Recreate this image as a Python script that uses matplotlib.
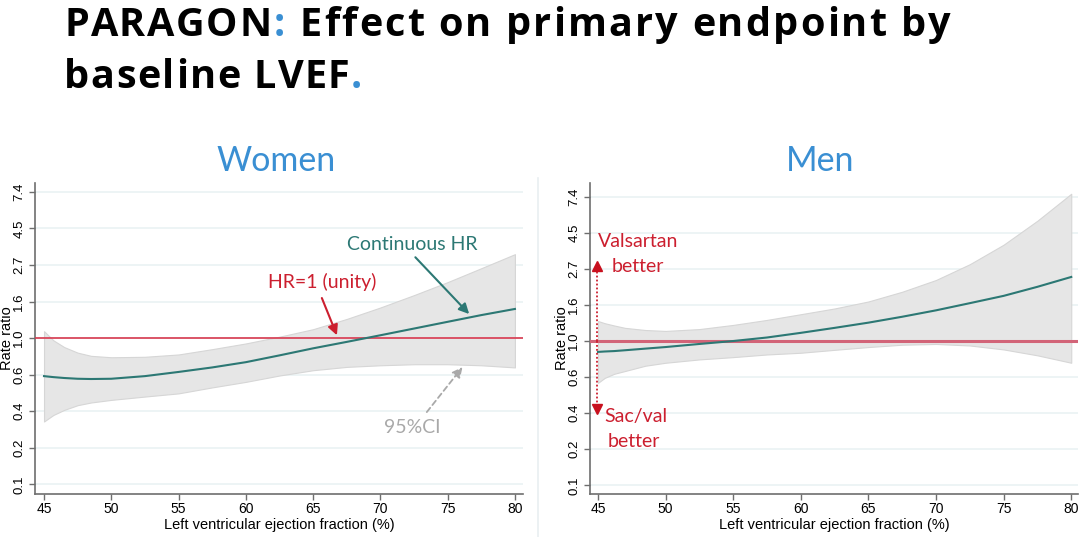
import numpy as np
import matplotlib
matplotlib.use("Agg")
import matplotlib.pyplot as plt
from matplotlib.ticker import FixedLocator, FixedFormatter

# ---------------- data ----------------
women_lvef  = [45, 45.7, 46.5, 47.5, 48.5, 50, 52.5, 55, 57.5, 60, 62.5, 65, 67.5, 70, 72.5, 75, 77.5, 80]
women_hr    = [0.595, 0.587, 0.580, 0.574, 0.572, 0.574, 0.595, 0.63, 0.67, 0.72, 0.79, 0.87, 0.95, 1.04, 1.14, 1.25, 1.37, 1.49]
women_upper = [1.10, 0.97, 0.885, 0.82, 0.785, 0.77, 0.775, 0.80, 0.86, 0.93, 1.02, 1.13, 1.30, 1.52, 1.80, 2.15, 2.60, 3.15]
women_lower = [0.32, 0.35, 0.375, 0.40, 0.415, 0.43, 0.45, 0.47, 0.51, 0.55, 0.60, 0.645, 0.675, 0.69, 0.70, 0.70, 0.69, 0.67]

men_lvef  = [45, 45.5, 46.2, 47, 48.5, 50, 52.5, 55, 57.5, 60, 62.5, 65, 67.5, 70, 72.5, 75, 77.5, 80]
men_hr    = [0.86, 0.865, 0.87, 0.88, 0.90, 0.92, 0.96, 1.00, 1.05, 1.12, 1.20, 1.29, 1.40, 1.53, 1.69, 1.87, 2.12, 2.43]
men_upper = [1.32, 1.28, 1.24, 1.20, 1.165, 1.15, 1.18, 1.25, 1.34, 1.45, 1.57, 1.73, 1.98, 2.33, 2.90, 3.80, 5.30, 7.70]
men_lower = [0.56, 0.60, 0.635, 0.66, 0.71, 0.74, 0.775, 0.80, 0.83, 0.85, 0.885, 0.92, 0.95, 0.96, 0.94, 0.89, 0.82, 0.74]

x_ticks = [45, 50, 55, 60, 65, 70, 75, 80]
y_tick_logs = [-2, -1.5, -1, -0.5, 0, 0.5, 1, 1.5, 2]
y_tick_labels = ["0.1", "0.2", "0.4", "0.6", "1.0", "1.6", "2.7", "4.5", "7.4"]

title_line1 = [("PARAGON", "black"), (":", "#3a8fd3"), (" Effect on primary endpoint by", "black")]
title_line2 = [("baseline LVEF", "black"), (".", "#3a8fd3")]

# ---------------- style ----------------
BLUE = "#3a8fd3"
TEAL = "#2c7874"
RED = "#cc1f2f"
GRAY_TXT = "#a9a9a9"
AXFONT = "Liberation Sans"
ANNFONT = "Lato"

fig = plt.figure(figsize=(10.8, 5.37), dpi=100)
fig.patch.set_facecolor("white")

def setup_axes(ax, ylo, yhi, xlo, xhi):
    ax.set_yscale("log")
    ax.set_ylim(np.exp(ylo), np.exp(yhi))
    ax.set_xlim(xlo, xhi)
    ax.yaxis.set_major_locator(FixedLocator([np.exp(v) for v in y_tick_logs]))
    ax.yaxis.set_major_formatter(FixedFormatter(y_tick_labels))
    ax.yaxis.set_minor_locator(FixedLocator([]))
    ax.set_xticks(x_ticks)
    for s in ["top", "right"]:
        ax.spines[s].set_visible(False)
    for s in ["left", "bottom"]:
        ax.spines[s].set_color("#6e6e6e")
        ax.spines[s].set_linewidth(1.2)
    ax.tick_params(axis="both", colors="#6e6e6e", length=4, width=1.0, labelcolor="black")
    ax.tick_params(axis="x", labelsize=10, pad=2)
    ax.tick_params(axis="y", labelsize=9.5, pad=3)
    for lab in ax.get_yticklabels():
        lab.set_rotation(90)
        lab.set_va("center")
    for lab in ax.get_xticklabels() + ax.get_yticklabels():
        lab.set_fontfamily(AXFONT)
    ax.grid(axis="y", color="#eaf2f3", linewidth=1.2, zorder=0)
    ax.set_axisbelow(True)
    ax.set_xlabel("Left ventricular ejection fraction (%)", fontsize=10.5,
                  fontfamily=AXFONT, labelpad=1)
    ax.set_ylabel("Rate ratio", fontsize=10.5, fontfamily=AXFONT)
    ax.yaxis.set_label_coords(-0.044, 0.5)

# Left (Women)
axL = fig.add_axes([35/1080, 1-494/537, (523-35)/1080, (494-183)/537])
setup_axes(axL, -2.13, 2.12, 44.33, 80.6)
axL.fill_between(women_lvef, women_lower, women_upper, facecolor="#e6e6e6",
                 edgecolor="#d6d6d6", linewidth=0.8, zorder=2)
axL.axhline(1.0, color="#d8394f", linewidth=1.2, zorder=3)
axL.plot(women_lvef, women_hr, color=TEAL, linewidth=1.5, zorder=4)

axL.text(72.4, 3.33, "Continuous HR", color=TEAL, fontsize=14, fontfamily=ANNFONT,
         ha="center", va="baseline")
axL.annotate("", xy=(76.6, 1.39), xytext=(72.6, 3.02),
             arrowprops=dict(arrowstyle="-|>,head_length=0.6,head_width=0.3",
                             color=TEAL, lw=1.5, shrinkA=0, shrinkB=0))
axL.text(65.7, 1.98, "HR=1 (unity)", color=RED, fontsize=14, fontfamily=ANNFONT,
         ha="center", va="baseline")
axL.annotate("", xy=(66.77, 1.04), xytext=(65.65, 1.73),
             arrowprops=dict(arrowstyle="-|>,head_length=0.6,head_width=0.3",
                             color=RED, lw=1.5, shrinkA=0, shrinkB=0))
axL.text(72.4, 0.273, "95%CI", color=GRAY_TXT, fontsize=14, fontfamily=ANNFONT,
         ha="center", va="baseline")
axL.annotate("", xy=(76.1, 0.673), xytext=(73.45, 0.364),
             arrowprops=dict(arrowstyle="-|>,head_length=0.6,head_width=0.3",
                             color="#a9a9a9", lw=1.3, linestyle=(0, (3, 2)),
                             shrinkA=0, shrinkB=0))

# Right (Men)
axR = fig.add_axes([590/1080, 1-494/537, (1078-590)/1080, (494-183)/537])
setup_axes(axR, -2.12, 2.19, 44.41, 80.5)
axR.fill_between(men_lvef, men_lower, men_upper, facecolor="#e6e6e6",
                 edgecolor="#d6d6d6", linewidth=0.8, zorder=2)
axR.axhline(1.0, color="#d26478", linewidth=2.2, zorder=3)
axR.plot(men_lvef, men_hr, color=TEAL, linewidth=1.5, zorder=4)

# dotted arrows
axR.plot([44.93, 44.93], [1.0, 2.75], color=RED, linestyle=(0, (1, 1.2)), linewidth=1.3, zorder=5)
axR.plot([44.93], [2.82], marker="^", markersize=7, color="#c8101e", zorder=6, clip_on=False)
axR.plot([44.93, 44.93], [1.0, 0.40], color=RED, linestyle=(0, (1, 1.2)), linewidth=1.3, zorder=5)
axR.plot([44.93], [0.39], marker="v", markersize=7, color="#c8101e", zorder=6, clip_on=False)
axR.text(45.0, 3.67, "Valsartan", color=RED, fontsize=14, fontfamily=ANNFONT,
         ha="left", va="baseline")
axR.text(46.04, 2.60, "better", color=RED, fontsize=14, fontfamily=ANNFONT,
         ha="left", va="baseline")
axR.text(45.44, 0.326, "Sac/val", color=RED, fontsize=14, fontfamily=ANNFONT,
         ha="left", va="baseline")
axR.text(45.74, 0.230, "better", color=RED, fontsize=14, fontfamily=ANNFONT,
         ha="left", va="baseline")

# Panel titles
fig.text(276/1080, 1-170.5/537, "Women", color=BLUE, fontsize=24.5, fontfamily=ANNFONT,
         ha="center", va="baseline")
fig.text(820/1080, 1-170.5/537, "Men", color=BLUE, fontsize=24.5, fontfamily=ANNFONT,
         ha="center", va="baseline")

# faint panel divider
fig.add_artist(plt.Line2D([538/1080, 538/1080], [0, 1-178/537], color="#e9eff1",
                          linewidth=1.2, transform=fig.transFigure))

# Main title with coloured punctuation and letter spacing
renderer = fig.canvas.get_renderer()
TKW = dict(fontsize=28.5, fontweight="bold", fontfamily="Open Sans")

def text_width(s):
    t = fig.text(0, 0, s + "|", **TKW)
    w = t.get_window_extent(renderer).width
    t.remove()
    t2 = fig.text(0, 0, "|", **TKW)
    wbar = t2.get_window_extent(renderer).width
    t2.remove()
    return w - wbar

def tracked_line(x_px, y_px, parts, target_px):
    chars = [(ch, c) for s, c in parts for ch in s]
    full = "".join(ch for ch, _ in chars)
    natural = text_width(full)
    track = (target_px - natural) / (len(chars) - 1)
    for i, (ch, c) in enumerate(chars):
        if ch == " ":
            continue
        adv = text_width(full[:i]) if i > 0 else 0.0
        x = x_px + adv + i * track
        fig.text(x / 1080, 1 - y_px / 537, ch, color=c, ha="left", va="baseline", **TKW)

tracked_line(64, 35.5, title_line1, 886)
tracked_line(64, 87.5, title_line2, 296)

fig.savefig("out.png", dpi=100, facecolor="white")
